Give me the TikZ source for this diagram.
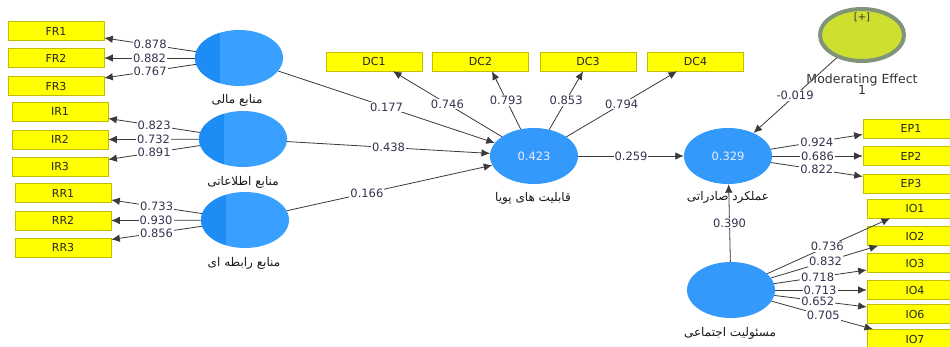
\documentclass[tikz,border=0pt]{standalone}
\usepackage{fontspec}
\setmainfont{DejaVu Sans}
\newfontfamily\arabicfont[Script=Arabic]{DejaVu Sans}
\TeXXeTstate=1
\usetikzlibrary{shapes.geometric,arrows.meta}

\definecolor{boxfill}{HTML}{FFFF00}
\definecolor{boxedge}{HTML}{C2BE00}
\definecolor{blueM}{HTML}{3399FA}
\definecolor{blueL}{HTML}{3AA0FF}
\definecolor{blueD}{HTML}{1E8CF5}
\definecolor{modfill}{HTML}{CEDF30}
\definecolor{modedge}{HTML}{7F9478}
\definecolor{linec}{HTML}{3A3A3A}
\definecolor{numc}{HTML}{34344E}

\tikzset{
  ind/.style={draw=boxedge, fill=boxfill, line width=0.6pt,
    minimum width=96pt, minimum height=19pt, inner sep=0pt,
    font=\fontsize{11}{12}\selectfont, text=black!85},
  lat/.style={ellipse, minimum width=88pt, minimum height=56pt, inner sep=0pt,
    fill=blueM, text=white!92!blue, font=\fontsize{11.5}{12}\selectfont},
  splitlat/.style={lat, fill=blueL,
    path picture={\fill[blueD] (path picture bounding box.south west)
      rectangle ([xshift=25pt]path picture bounding box.north west);}},
  modlat/.style={ellipse, minimum width=84pt, minimum height=52pt, inner sep=0pt,
    fill=modfill, draw=modedge, line width=4pt},
  capt/.style={text=black!90, font=\arabicfont\fontsize{12}{13}\selectfont},
  link/.style={draw=linec, line width=0.8pt, -{Latex[length=8.5pt,width=7.5pt]}},
  lbl/.style={fill=white, inner sep=1pt, text=numc, font=\fontsize{11.5}{12}\selectfont},
}

\begin{document}
\begin{tikzpicture}[x=1pt, y=-1pt]
\useasboundingbox (0,0) rectangle (950,347);
\clip (0,0) rectangle (950,347);
\fill[white] (0,0) rectangle (950,347);

% indicator boxes
\node[ind] (FR1) at (56,31) {FR1};
\node[ind] (FR2) at (56,58) {FR2};
\node[ind] (FR3) at (56,86) {FR3};
\node[ind] (IR1) at (60,111.5) {IR1};
\node[ind] (IR2) at (60,139.5) {IR2};
\node[ind] (IR3) at (60,166.5) {IR3};
\node[ind] (RR1) at (63,193) {RR1};
\node[ind] (RR2) at (63,220.5) {RR2};
\node[ind] (RR3) at (63,247.5) {RR3};
\node[ind] (DC1) at (374,61.5) {DC1};
\node[ind] (DC2) at (480.5,61.5) {DC2};
\node[ind] (DC3) at (588,61.5) {DC3};
\node[ind] (DC4) at (695.5,61.5) {DC4};
\node[ind] (EP1) at (911,128.5) {EP1};
\node[ind] (EP2) at (911,156) {EP2};
\node[ind] (EP3) at (911,183.5) {EP3};
\node[ind] (IO1) at (915,208.5) {IO1};
\node[ind] (IO2) at (915,236) {IO2};
\node[ind] (IO3) at (915,263) {IO3};
\node[ind] (IO4) at (915,290) {IO4};
\node[ind] (IO6) at (915,314) {IO6};
\node[ind] (IO7) at (915,339) {IO7};

% latent variables
\node[splitlat] (FR) at (239,58) {};
\node[splitlat] (IR) at (243,139) {};
\node[splitlat] (RR) at (245,220) {};
\node[lat] (DC) at (534,156) {0.423};
\node[lat] (EP) at (728,156) {0.329};
\node[lat] (SR) at (731,290) {};
\node[modlat] (MOD) at (862,35) {};
\node[font=\fontsize{10}{11}\selectfont, text=black!80] (MODp) at (862,17) {[+]};

% captions
\node[capt] (cFR) at (237,100) {\beginR منابع مالی\endR};
\node[capt] (cIR) at (243,182) {\beginR منابع اطلاعاتی\endR};
\node[capt] (cRR) at (244,263) {\beginR منابع رابطه ای\endR};
\node[capt] (cDC) at (533,198) {\beginR قابلیت های پویا\endR};
\node[capt] (cEP) at (728,197) {\beginR عملکرد صادراتی\endR};
\node[capt] (cSR) at (730,333) {\beginR مسئولیت اجتماعی\endR};
\node[font=\fontsize{12.5}{13}\selectfont, text=black!80, align=center,
      inner sep=0pt] (cMOD) at (862,84) {Moderating Effect\\[-2pt]1};

% outer loadings
\draw[link] (FR) -- node[lbl]{0.878} ([yshift=-7pt]FR1.east);
\draw[link] (FR) -- node[lbl]{0.882} (FR2.east);
\draw[link] (FR) -- node[lbl]{0.767} ([yshift=8pt]FR3.east);
\draw[link] (IR) -- node[lbl]{0.823} ([yshift=-7pt]IR1.east);
\draw[link] (IR) -- node[lbl]{0.732} (IR2.east);
\draw[link] (IR) -- node[lbl]{0.891} ([yshift=7pt]IR3.east);
\draw[link] (RR) -- node[lbl]{0.733} ([yshift=-7pt]RR1.east);
\draw[link] (RR) -- node[lbl]{0.930} (RR2.east);
\draw[link] (RR) -- node[lbl]{0.856} ([yshift=8pt]RR3.east);

\draw[link] (DC) -- node[lbl]{0.746} ([xshift=19pt]DC1.south);
\draw[link] (DC) -- node[lbl]{0.793} ([xshift=11.5pt]DC2.south);
\draw[link] (DC) -- node[lbl]{0.853} ([xshift=-5pt]DC3.south);
\draw[link] (DC) -- node[lbl]{0.794} ([xshift=-18.5pt]DC4.south);

\draw[link] (EP) -- node[lbl]{0.924} ([yshift=-6pt]EP1.west);
\draw[link] (EP) -- node[lbl]{0.686} (EP2.west);
\draw[link] (EP) -- node[lbl]{0.822} ([yshift=7pt]EP3.west);

\draw[link] (SR) -- node[lbl, pos=0.49]{0.736} ([xshift=-25pt]IO1.south);
\draw[link] (SR) -- node[lbl, pos=0.51]{0.832} ([xshift=-37pt]IO2.south);
\draw[link] (SR) -- node[lbl, pos=0.47]{0.718} ([yshift=-7pt]IO3.west);
\draw[link] (SR) -- node[lbl, pos=0.49]{0.713} (IO4.west);
\draw[link] (SR) -- node[lbl, pos=0.47]{0.652} ([yshift=7pt]IO6.west);
\draw[link] (SR) -- node[lbl, pos=0.51]{0.705} ([xshift=-42pt]IO7.north);

% path coefficients
\draw[link] (FR) -- node[lbl]{0.177} (DC);
\draw[link] (IR) -- node[lbl]{0.438} (DC);
\draw[link] (RR) -- node[lbl, pos=0.39]{0.166} (DC);
\draw[link] (DC) -- node[lbl]{0.259} (EP);
\draw[link] (MOD) -- node[lbl]{-0.019} (EP);
\draw[link] (SR) -- node[lbl]{0.390} (EP);
\end{tikzpicture}
\end{document}
